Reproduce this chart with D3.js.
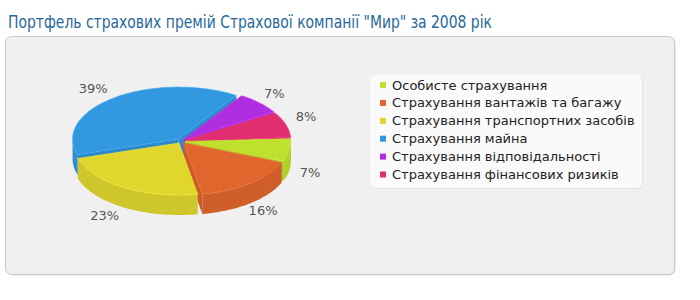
<!DOCTYPE html>
<html>
<head>
<meta charset="utf-8">
<script src="https://cdn.jsdelivr.net/npm/d3@7"></script>
<style>
  body { margin: 0; background: #fff; }
  svg { display: block; }
</style>
</head>
<body>
<div id="chart"></div>
<script>
const title = 'Портфель страхових премій Страхової компанії "Мир" за 2008 рік'
const categories = [
  'Особисте страхування',
  'Страхування вантажів та багажу',
  'Страхування транспортних засобів',
  'Страхування майна',
  'Страхування відповідальності',
  'Страхування фінансових ризиків'
]
const shares = [7, 16, 23, 39, 7, 8]
const topColors = ['#bfe02e', '#e0662e', '#e0d62e', '#3298e0', '#b12ee0', '#e02e6f']

const W = 700, H = 300
const svg = d3.select('#chart').append('svg').attr('width', W).attr('height', H)

svg.append('text')
  .attr('x', 8).attr('y', 28)
  .attr('textLength', 484).attr('lengthAdjust', 'spacingAndGlyphs')
  .style('font-family', 'DejaVu Sans')
  .style('font-size', '18px')
  .attr('fill', '#1f6899')
  .text(title)

// panel
svg.append('rect')
  .attr('x', 6.5).attr('y', 37.5).attr('width', 669).attr('height', 238)
  .attr('rx', 6).attr('fill', '#dcdcdc')
svg.append('rect')
  .attr('x', 5.5).attr('y', 36.5).attr('width', 669).attr('height', 238)
  .attr('rx', 6).attr('fill', '#f0f0f0').attr('stroke', '#c9c9c9')

// pie geometry
const cx = 181, cy = 141, rx = 106, ry = 52, depth = 20, explode = 4
const rot = -3 * Math.PI / 180
const pie = d3.pie().sort(null).value(d => d)
  .startAngle(Math.PI / 2 + rot).endAngle(Math.PI / 2 + rot + 2 * Math.PI)
const color = d3.scaleOrdinal().domain(categories).range(topColors)

const slices = pie(shares).map((p, i) => {
  const a0 = p.startAngle - Math.PI / 2, a1 = p.endAngle - Math.PI / 2
  const mid = (a0 + a1) / 2
  return {
    i, a0, a1, mid, value: p.data,
    ox: cx + explode * Math.cos(mid),
    oy: cy + explode * 0.6 * Math.sin(mid)
  }
})

function pt(s, a, dz) {
  return [s.ox + rx * Math.cos(a), s.oy + ry * Math.sin(a) + (dz || 0)]
}
function arcPts(s, a0, a1, dz) {
  const n = Math.max(2, Math.ceil((a1 - a0) / 0.03))
  return d3.range(n + 1).map(k => pt(s, a0 + (a1 - a0) * k / n, dz))
}
const line = d3.line()

const g = svg.append('g')
// back slices first
const order = slices.slice().sort((a, b) => Math.sin(a.mid) - Math.sin(b.mid))

order.forEach(s => {
  const c = color(categories[s.i])
  const side = d3.color(c).darker(0.22).formatHex()
  const wall = d3.color(c).darker(0.3).formatHex()
  const sg = g.append('g')
  // radial walls that face the viewer
  if (Math.cos(s.a0) < 0) {
    const p = pt(s, s.a0)
    sg.append('path').attr('fill', wall)
      .attr('d', line([[s.ox, s.oy], p, [p[0], p[1] + depth], [s.ox, s.oy + depth]]) + 'Z')
  }
  if (Math.cos(s.a1) > 0) {
    const p = pt(s, s.a1)
    sg.append('path').attr('fill', wall)
      .attr('d', line([[s.ox, s.oy], p, [p[0], p[1] + depth], [s.ox, s.oy + depth]]) + 'Z')
  }
  // outer wall, front half only
  const ranges = [[0, Math.PI], [2 * Math.PI, 3 * Math.PI]]
  ranges.forEach(([lo, hi]) => {
    const b0 = Math.max(s.a0, lo), b1 = Math.min(s.a1, hi)
    if (b1 > b0) {
      const top = arcPts(s, b0, b1, 0)
      const bot = arcPts(s, b0, b1, depth).reverse()
      sg.append('path').attr('fill', side).attr('d', line(top.concat(bot)) + 'Z')
    }
  })
  // top face
  const topPts = [[s.ox, s.oy]].concat(arcPts(s, s.a0, s.a1, 0))
  sg.append('path').attr('fill', c)
    .attr('stroke', d3.color(c).brighter(0.3)).attr('stroke-width', 0.6)
    .attr('d', line(topPts) + 'Z')
})

// percent labels beside the rim at each slice's mid angle
svg.append('g').selectAll('text').data(slices).join('text')
  .attr('x', s => {
    const c = Math.cos(s.mid)
    return s.ox + (rx + 22) * c + (c < 0 ? -8 : -1)
  })
  .attr('y', s => {
    const sn = Math.sin(s.mid)
    const shift = sn > 0 ? depth + 3 : -5 * (1 - Math.abs(sn))
    return s.oy + (ry + 8) * sn + shift + 2.5
  })
  .attr('text-anchor', 'middle')
  .style('font-family', 'DejaVu Sans')
  .style('font-size', '13px')
  .attr('fill', '#555')
  .text(s => s.value + '%')

// legend
const lx = 370, ly = 75
svg.append('rect')
  .attr('x', lx + 1).attr('y', ly + 1).attr('width', 272).attr('height', 113)
  .attr('rx', 5).attr('fill', '#e2e2e2')
svg.append('rect')
  .attr('x', lx).attr('y', ly).attr('width', 272).attr('height', 113)
  .attr('rx', 5).attr('fill', '#fafafa')

const item = svg.append('g').selectAll('g').data(categories).join('g')
  .attr('transform', (d, i) => `translate(${lx + 10},${ly + 10 + i * 17.9})`)
item.append('rect')
  .attr('x', 0).attr('y', -3).attr('width', 6).attr('height', 6)
  .attr('fill', d => color(d))
item.append('text')
  .attr('x', 12).attr('y', 4.5)
  .style('font-family', 'DejaVu Sans')
  .style('font-size', '13px')
  .attr('fill', '#222')
  .text(d => d)
</script>
</body>
</html>
